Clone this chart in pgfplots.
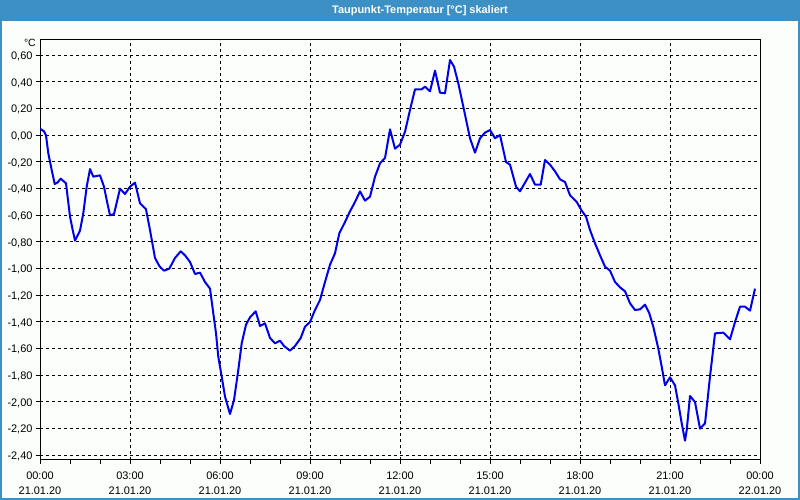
\documentclass[border=0pt]{standalone}
\usepackage{pgfplots}
\pgfplotsset{compat=1.18}
\usepackage{fontspec}
\setmainfont{Liberation Sans}
\definecolor{barblue}{RGB}{60,144,196}
\definecolor{bgc}{RGB}{252,254,252}
\definecolor{curve}{RGB}{0,0,235}
\begin{document}
\begin{tikzpicture}[x=1bp,y=1bp]
\useasboundingbox (0,0) rectangle (800,500);
\fill[bgc] (0,0) rectangle (800,500);
\fill[barblue] (0,479) rectangle (800,500);
\draw[barblue, line width=2bp] (1,1) rectangle (799,499);
\node[text=white, font=\bfseries\fontsize{11}{13}\selectfont] at (420,489.5) {Taupunkt-Temperatur [°C] skaliert};
\node[anchor=east, font=\fontsize{10.5}{12}\selectfont, inner sep=0pt] at (36,457.5) {°C};
\begin{axis}[
  at={(40bp,40bp)}, anchor=south west, scale only axis,
  width=720bp, height=420bp,
  xmin=0, xmax=24, ymin=-2.435, ymax=0.715,
  xtick={0,3,...,24},
  minor xtick={1,2,4,5,7,8,10,11,13,14,16,17,19,20,22,23},
  xticklabels={{00:00\\21.01.20},{03:00\\21.01.20},{06:00\\21.01.20},{09:00\\21.01.20},{12:00\\21.01.20},{15:00\\21.01.20},{18:00\\21.01.20},{21:00\\21.01.20},{00:00\\22.01.20}},
  ytick={-2.4,-2.2,-2.0,-1.8,-1.6,-1.4,-1.2,-1.0,-0.8,-0.6,-0.4,-0.2,0,0.2,0.4,0.6},
  yticklabels={{-2,40},{-2,20},{-2,00},{-1,80},{-1,60},{-1,40},{-1,20},{-1,00},{-0,80},{-0,60},{-0,40},{-0,20},{0,00},{0,20},{0,40},{0,60}},
  xmajorgrids, ymajorgrids,
  grid style={black, dash pattern=on 3bp off 3bp, line width=1bp},
  axis line style={black, line width=1bp},
  tick align=outside, tick pos=left,
  major tick length=4bp, minor tick length=4bp,
  tick style={black, line width=1bp},
  x tick label style={align=center, font=\fontsize{11}{15}\selectfont, yshift=-4bp},
  y tick label style={font=\fontsize{11}{13}\selectfont, yshift=-1bp},
]
\addplot[color=curve, line width=2bp, line join=round] coordinates {
(0,0.05) (0.133,0.03) (0.2,0.0) (0.277,-0.135) (0.39,-0.26) (0.49,-0.365) (0.577,-0.355) (0.69,-0.325) (0.867,-0.36) (1.0,-0.61) (1.09,-0.71) (1.167,-0.79) (1.333,-0.715) (1.443,-0.585) (1.557,-0.385) (1.667,-0.253) (1.777,-0.31) (2.0,-0.30) (2.133,-0.385) (2.223,-0.485) (2.333,-0.60) (2.467,-0.59) (2.667,-0.40) (2.833,-0.44) (3.0,-0.385) (3.167,-0.355) (3.333,-0.51) (3.533,-0.555) (3.667,-0.71) (3.833,-0.92) (3.977,-0.98) (4.133,-1.015) (4.31,-1.0) (4.5,-0.92) (4.69,-0.87) (4.833,-0.90) (5.0,-0.95) (5.167,-1.04) (5.333,-1.03) (5.5,-1.10) (5.667,-1.15) (5.777,-1.335) (5.867,-1.485) (5.943,-1.66) (6.057,-1.81) (6.167,-1.96) (6.333,-2.09) (6.467,-1.985) (6.61,-1.76) (6.723,-1.56) (6.867,-1.42) (7.0,-1.365) (7.19,-1.32) (7.333,-1.43) (7.5,-1.41) (7.667,-1.52) (7.833,-1.56) (8.0,-1.54) (8.133,-1.58) (8.333,-1.615) (8.5,-1.58) (8.69,-1.52) (8.833,-1.435) (9.0,-1.40) (9.167,-1.31) (9.333,-1.235) (9.5,-1.10) (9.667,-0.97) (9.833,-0.885) (9.977,-0.735) (10.167,-0.65) (10.333,-0.57) (10.5,-0.50) (10.667,-0.42) (10.833,-0.49) (11.0,-0.46) (11.167,-0.31) (11.333,-0.21) (11.5,-0.17) (11.667,0.045) (11.833,-0.10) (12.0,-0.07) (12.167,0.027) (12.333,0.19) (12.5,0.345) (12.723,0.345) (12.833,0.365) (13.0,0.33) (13.167,0.485) (13.333,0.32) (13.5,0.315) (13.667,0.565) (13.8,0.515) (13.943,0.39) (14.11,0.215) (14.333,-0.022) (14.5,-0.13) (14.667,-0.022) (14.833,0.02) (15.0,0.04) (15.167,-0.022) (15.333,0.002) (15.533,-0.20) (15.667,-0.22) (15.867,-0.385) (16.0,-0.42) (16.167,-0.355) (16.333,-0.29) (16.5,-0.37) (16.69,-0.37) (16.833,-0.185) (17.0,-0.22) (17.167,-0.27) (17.333,-0.33) (17.5,-0.35) (17.667,-0.45) (17.89,-0.50) (18.057,-0.565) (18.2,-0.61) (18.333,-0.71) (18.5,-0.81) (18.667,-0.90) (18.833,-0.985) (19.0,-1.015) (19.167,-1.10) (19.333,-1.14) (19.5,-1.17) (19.667,-1.26) (19.833,-1.31) (20.0,-1.305) (20.167,-1.27) (20.31,-1.335) (20.443,-1.435) (20.61,-1.60) (20.723,-1.735) (20.833,-1.875) (21.0,-1.815) (21.167,-1.875) (21.277,-2.01) (21.39,-2.16) (21.5,-2.29) (21.557,-2.21) (21.667,-1.955) (21.833,-2.0) (22.0,-2.20) (22.167,-2.16) (22.333,-1.81) (22.5,-1.485) (22.777,-1.48) (23.0,-1.53) (23.167,-1.40) (23.333,-1.285) (23.5,-1.285) (23.667,-1.315) (23.833,-1.15)
};
\end{axis}
\end{tikzpicture}
\end{document}
